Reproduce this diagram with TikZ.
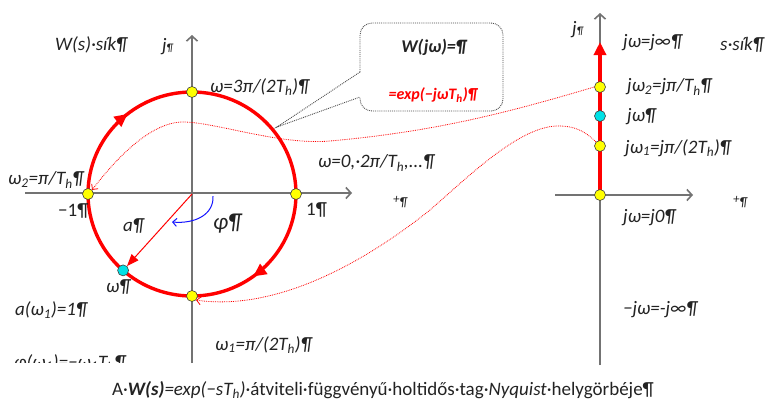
\documentclass[tikz,border=0pt]{standalone}
\usepackage{fontspec}
\setmainfont{Carlito}
\usetikzlibrary{arrows.meta,decorations.markings,calc}
\tikzset{redtip/.tip={Triangle[length=13pt,width=12pt]}}
\definecolor{rd}{RGB}{255,0,0}
\definecolor{yl}{RGB}{255,255,0}
\definecolor{cy}{RGB}{0,225,230}
\definecolor{bl}{RGB}{20,20,255}
\definecolor{tx}{RGB}{35,35,35}
\begin{document}
\begin{tikzpicture}[x=1pt,y=-1pt,
  axis/.style={draw=black!55, line width=1.6pt, -{Straight Barb[length=5pt,width=11pt]}},
  redc/.style={draw=rd, line width=3.4pt},
  ydot/.style={circle, fill=yl, draw=black!75, line width=0.6pt, inner sep=0pt, minimum size=11pt},
  cdot/.style={ydot, fill=cy},
  lbl/.style={font=\itshape\fontsize{19}{21}\selectfont, inner sep=0pt, anchor=west, text=tx},
  upl/.style={font=\fontsize{19}{21}\selectfont, inner sep=0pt, anchor=west, text=tx},
  smallp/.style={font=\itshape\fontsize{13}{14}\selectfont, inner sep=0pt, anchor=west, text=tx},
  dotline/.style={draw=rd, line width=0.8pt, densely dotted, -{Straight Barb[length=4pt,width=8pt]}}
]
\useasboundingbox (0,0) rectangle (767,405);
\fill[white] (0,0) rectangle (767,405);

% ---------- left plane ----------
\coordinate (O) at (192,194);
\coordinate (hL) at (25,193);
\coordinate (hR) at (352,193);
\coordinate (vB) at (192,363);
\coordinate (vT) at (192,35);
\draw[axis] (hL) -- (hR);
\draw[axis] (vB) -- (vT);

\draw[redc, postaction=decorate, decoration={markings,
   mark=at position 0.149 with {\arrow{redtip}},
   mark=at position 0.643 with {\arrow{redtip}}}]
  ($(O)+(0:104pt and 102pt)$) arc[start angle=0, end angle=-360, x radius=104pt, y radius=102pt];

\node[ydot] (dR) at ($(O)+(0:104pt and 102pt)$) {};
\node[ydot] (dT) at ($(O)+(90:104pt and 102pt)$) {};
\node[ydot] (dL) at ($(O)+(180:104pt and 102pt)$) {};
\node[ydot] (dB) at ($(O)+(270:104pt and 102pt)$) {};
\node[cdot] (dC) at ($(O)+(228.5:104pt and 102pt)$) {};

\draw[rd, line width=1pt, -{Triangle[length=12pt,width=9pt]}] (O) -- (dC);
\draw[bl, line width=1pt, -{Straight Barb[length=4pt,width=8pt]}]
  (213,196) .. controls (214,214) and (196,224) .. (172,222);

% ---------- right plane ----------
\coordinate (O2) at (600,195);
\coordinate (h2L) at (555,195);
\coordinate (h2R) at (693,195);
\coordinate (v2B) at (600,365);
\coordinate (v2T) at (600,13);
\coordinate (v2A) at (600,42);
\draw[axis] (h2L) -- (h2R);
\draw[axis] (v2B) -- (v2T);
\draw[rd, line width=3.4pt, -{redtip}] (O2) -- (v2A);
\node[ydot] (r0) at (O2) {};
\node[ydot] (r1) at (600,146) {};
\node[cdot] (rc) at (600,116) {};
\node[ydot] (r2) at (600,87) {};

% ---------- dotted mapping curves ----------
\draw[dotline] (r2.west) .. controls (500,115) and (430,132) .. (330,141)
   .. controls (280,145.5) and (215,122) .. (183,122)
   .. controls (150,122) and (115,160) .. (dL.north east);
\draw[dotline] (r1.north west) .. controls (582,128) and (570,126) .. (558,126)
   .. controls (520,126) and (470,175) .. (430,210)
   .. controls (370,258) and (280,312) .. (dB.south east);

% ---------- callout ----------
\draw[black!70, line width=0.9pt, densely dotted, rounded corners=12pt]
  (360,72) -- (360,23) -- (503,23) -- (503,111) -- (360,111) -- (360,97);
\coordinate (tip) at (277,127);
\draw[black!70, line width=0.9pt, densely dotted] (360,72) -- (tip) -- (360,97);
\node[font=\bfseries\itshape\fontsize{18}{20}\selectfont, text=tx] (cw) at (434,47) {W(jω)=¶};
\node[font=\bfseries\itshape\fontsize{16}{18}\selectfont, text=rd] (ce) at (433,95) {=exp(−jωT\textsubscript{h})¶};

% ---------- left labels ----------
\node[lbl] (lW) at (55,45) {W(s)·sík¶};
\node[lbl] (lj) at (162,47) {j{\fontsize{11}{12}\selectfont ¶}};
\node[lbl] (l3) at (210,87) {ω=3π/(2T\textsubscript{h})¶};
\node[lbl] (l2) at (8,180) {ω\textsubscript{2}=π/T\textsubscript{h}¶};
\node[lbl] (l0) at (318,163) {ω=0,·2π/T\textsubscript{h},...¶};
\node[smallp] (lp) at (393,202) {\raisebox{3pt}{+}¶};
\node[upl] (lm1) at (58,211) {−1¶};
\node[upl] (l1) at (306,210) {1¶};
\node[lbl] (la) at (123,226) {a¶};
\node[lbl, font=\itshape\fontsize{23}{24}\selectfont] (lphi) at (213,224) {φ¶};
\node[lbl] (lw) at (106,287) {ω¶};
\node[lbl] (la1) at (15,310) {a(ω\textsubscript{1})=1¶};
\node[lbl] (lw1) at (215,345) {ω\textsubscript{1}=π/(2T\textsubscript{h})¶};
\begin{scope}
\clip (0,0) rectangle (767,362);
\node[lbl] (lphi1) at (14,363) {φ(ω\textsubscript{1})=−ω\textsubscript{1}T\textsubscript{h}¶};
\end{scope}

% ---------- right labels ----------
\node[lbl] (rj) at (572,30) {j{\fontsize{11}{12}\selectfont ¶}};
\node[lbl] (rinf) at (623,43) {jω=j∞¶};
\node[lbl] (rs) at (720,45) {s·sík¶};
\node[lbl] (rw2) at (627,87) {jω\textsubscript{2}=jπ/T\textsubscript{h}¶};
\node[lbl] (rw) at (627,117) {jω¶};
\node[lbl] (rw1) at (625,148) {jω\textsubscript{1}=jπ/(2T\textsubscript{h})¶};
\node[smallp] (rp) at (733,202) {\raisebox{3pt}{+}¶};
\node[lbl] (r0l) at (623,218) {jω=j0¶};
\node[lbl] (rminf) at (623,310) {−jω=-j∞¶};

% ---------- caption ----------
\node[font=\fontsize{19}{21}\selectfont, inner sep=0pt, text=tx] (cap) at (383,390)
  {A·\textbf{\textit{W(s)}}\textit{=exp(−sT\textsubscript{h})}·átviteli·függvényű·holtidős·tag·\textit{Nyquist}·helygörbéje¶};
\end{tikzpicture}
\end{document}
